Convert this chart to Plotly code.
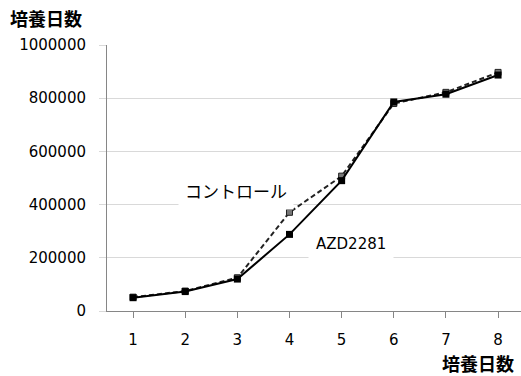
import plotly.graph_objects as go

days = [1, 2, 3, 4, 5, 6, 7, 8]
azd2281 = [50000, 73000, 120000, 288000, 490000, 786000, 815000, 887000]
control = [52000, 75000, 125000, 371000, 507000, 780000, 822000, 897000]
y_ticks = [0, 200000, 400000, 600000, 800000, 1000000]

L, T, W, H = 107, 45, 414, 266

def px(x):
    return (x - L) / W

def py(y):
    return (T + H - y) / H

fig = go.Figure()
fig.add_trace(go.Scatter(
    x=days, y=control, mode="lines+markers", name="コントロール",
    line=dict(color="#222222", width=2, dash="5px,3px"),
    marker=dict(symbol="square", size=6, color="#777777", line=dict(color="#222222", width=1)),
))
fig.add_trace(go.Scatter(
    x=days, y=azd2281, mode="lines+markers", name="AZD2281",
    line=dict(color="#000000", width=2),
    marker=dict(symbol="square", size=7, color="#000000"),
))

fig.update_layout(
    width=521, height=376,
    margin=dict(l=L, r=521 - L - W, t=T, b=376 - T - H),
    paper_bgcolor="white", plot_bgcolor="white",
    showlegend=False,
    font=dict(family="DejaVu Sans", size=15, color="#000000"),
    xaxis=dict(
        range=[0.5, 8.44], tickmode="array", tickvals=days, ticktext=[str(d) for d in days],
        showgrid=False, zeroline=False, showline=True, linecolor="#868686", linewidth=1,
        ticks="outside", ticklen=6, tickcolor="#868686", tickson="boundaries",
        ticklabelstandoff=9, fixedrange=True,
    ),
    yaxis=dict(
        range=[0, 1000000], tickmode="array", tickvals=y_ticks, ticktext=[str(v) for v in y_ticks],
        showgrid=True, gridcolor="#d9d9d9", gridwidth=1.3, zeroline=False,
        showline=True, linecolor="#868686", linewidth=1,
        ticks="outside", ticklen=7, tickcolor="#d9d9d9",
        ticklabelstandoff=10, fixedrange=True,
    ),
    annotations=[
        dict(text="<b>培養日数</b>", xref="paper", yref="paper", x=px(8), y=py(18),
             xanchor="left", yanchor="middle", showarrow=False,
             font=dict(family="Noto Sans CJK JP", size=18, color="#000000")),
        dict(text="<b>培養日数</b>", xref="paper", yref="paper", x=px(516), y=py(363),
             xanchor="right", yanchor="middle", showarrow=False,
             font=dict(family="Noto Sans CJK JP", size=18, color="#000000")),
        dict(text="コントロール", xref="paper", yref="paper", x=px(236), y=py(190),
             xanchor="center", yanchor="middle", showarrow=False, bgcolor="white", borderpad=6,
             font=dict(family="Noto Sans CJK JP", size=17, color="#000000")),
        dict(text="AZD2281", xref="paper", yref="paper", x=px(351), y=py(244),
             xanchor="center", yanchor="middle", showarrow=False, bgcolor="white", borderpad=7,
             font=dict(family="DejaVu Sans", size=15, color="#000000")),
    ],
)

fig.write_html(
    "out.html",
    config={"displayModeBar": False},
    post_script="document.body.style.margin='0';document.body.style.overflow='hidden';",
)
